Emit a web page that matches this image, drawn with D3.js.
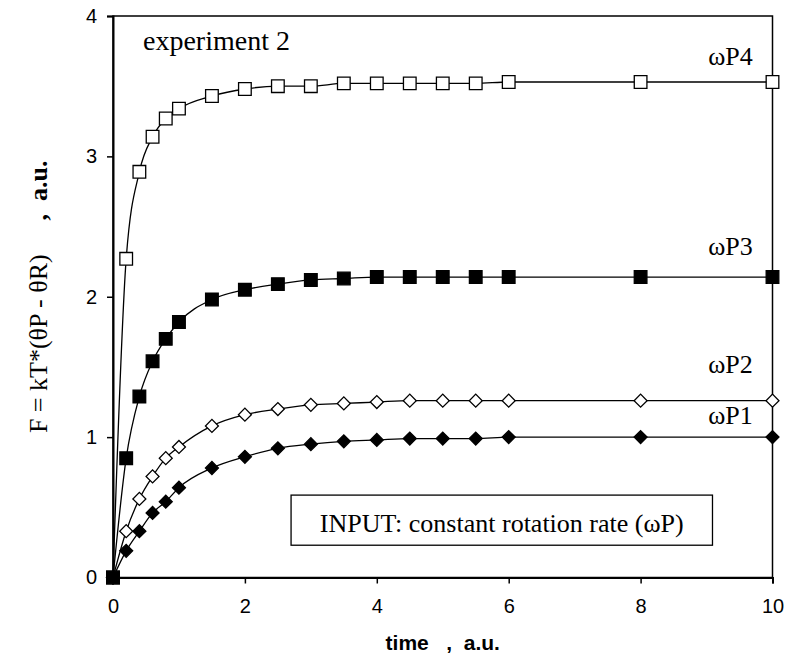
<!DOCTYPE html>
<html>

<head>
    <meta charset="utf-8">
    <title>experiment 2</title>
    <style>
        body { margin: 0; background: #fff; }
        text { white-space: pre; }
    </style>
</head>

<body>
    <script src="https://d3js.org/d3.v7.min.js"></script>
    <script>
    // data
    var times = [0, 0.2, 0.4, 0.6, 0.8, 1, 1.5, 2, 2.5, 3, 3.5, 4, 4.5, 5, 5.5, 6, 8, 10];
    var wP1 = [0, 0.19, 0.33, 0.46, 0.54, 0.64, 0.78, 0.86, 0.92, 0.95, 0.97, 0.98, 0.99, 0.99, 0.99, 1.00, 1.00, 1.00];
    var wP2 = [0, 0.33, 0.56, 0.72, 0.85, 0.93, 1.08, 1.16, 1.20, 1.23, 1.24, 1.25, 1.26, 1.26, 1.26, 1.26, 1.26, 1.26];
    var wP3 = [0, 0.85, 1.29, 1.54, 1.70, 1.82, 1.98, 2.05, 2.09, 2.12, 2.13, 2.14, 2.14, 2.14, 2.14, 2.14, 2.14, 2.14];
    var wP4 = [0, 2.27, 2.89, 3.14, 3.27, 3.34, 3.43, 3.48, 3.50, 3.50, 3.52, 3.52, 3.52, 3.52, 3.52, 3.53, 3.53, 3.53];
    var seriesNames = ["\u03c9P1", "\u03c9P2", "\u03c9P4", "\u03c9P3"];
    var xTicks = [0, 2, 4, 6, 8, 10];
    var yTicks = [0, 1, 2, 3, 4];

    const width = 787;
    const height = 656;
    const margin = { top: 16, right: 14.5, bottom: 78.5, left: 113 };

    var x = d3.scaleLinear().domain([0, 10]).range([margin.left, width - margin.right]);
    var y = d3.scaleLinear().domain([0, 4]).range([height - margin.bottom, margin.top]);

    var svg = d3.select("body")
        .append("svg")
        .attr("width", width)
        .attr("height", height);

    // plot frame
    svg.append("rect")
        .attr("x", x(0))
        .attr("y", y(4))
        .attr("width", x(10) - x(0))
        .attr("height", y(0) - y(4))
        .attr("fill", "none")
        .attr("stroke", "#000")
        .attr("stroke-width", 1.5);

    var xAxis = svg.append("g")
        .attr("transform", "translate(0," + y(0) + ")")
        .call(d3.axisBottom(x).tickValues(xTicks).tickFormat(d3.format("d"))
            .tickSizeOuter(0).tickSize(6).tickPadding(15));
    var yAxis = svg.append("g")
        .attr("transform", "translate(" + x(0) + ",0)")
        .call(d3.axisLeft(y).tickValues(yTicks).tickFormat(d3.format("d"))
            .tickSizeOuter(0).tickSize(6).tickPadding(10));

    [xAxis, yAxis].forEach(function(g) {
        g.select(".domain").attr("stroke-width", 2);
        g.selectAll(".tick line").attr("stroke-width", 1.5);
        g.selectAll("text")
            .attr("font-family", "Liberation Sans, Arial, sans-serif")
            .attr("font-size", 20)
            .attr("fill", "#000");
    });

    // series, drawn so the filled square of wP3 ends up on top
    var series = [
        { name: seriesNames[0], values: wP1, shape: "diamond", fill: "#000" },
        { name: seriesNames[1], values: wP2, shape: "diamond", fill: "#fff" },
        { name: seriesNames[2], values: wP4, shape: "square", fill: "#fff" },
        { name: seriesNames[3], values: wP3, shape: "square", fill: "#000" }
    ];

    var line = d3.line()
        .x(function(d) { return x(d[0]); })
        .y(function(d) { return y(d[1]); })
        .curve(d3.curveMonotoneX);

    series.forEach(function(s) {
        var pts = times.map(function(t, i) { return [t, s.values[i]]; });
        svg.append("path")
            .attr("d", line(pts))
            .attr("fill", "none")
            .attr("stroke", "#000")
            .attr("stroke-width", 1.3);

        var sym = d3.symbol().type(d3.symbolSquare).size(s.shape == "square" ? 160 : 84);
        svg.selectAll(null)
            .data(pts)
            .enter()
            .append("path")
            .attr("d", sym)
            .attr("transform", function(d) {
                return "translate(" + x(d[0]) + "," + y(d[1]) + ")" + (s.shape == "diamond" ? " rotate(45)" : "");
            })
            .attr("fill", s.fill)
            .attr("stroke", "#000")
            .attr("stroke-width", 1.3);
    });

    // series labels (data units)
    var labelPos = [[9.7, 1.093], [9.7, 1.456], [9.7, 3.65], [9.7, 2.30]];
    svg.selectAll(null)
        .data(series)
        .enter()
        .append("text")
        .attr("x", function(d, i) { return x(labelPos[i][0]); })
        .attr("y", function(d, i) { return y(labelPos[i][1]); })
        .attr("text-anchor", "end")
        .attr("font-family", "Liberation Serif, Times New Roman, serif")
        .attr("font-size", 26)
        .attr("fill", "#000")
        .text(function(d) { return d.name; });

    svg.append("text")
        .attr("x", x(0.455))
        .attr("y", y(3.76))
        .attr("font-family", "Liberation Serif, Times New Roman, serif")
        .attr("font-size", 28)
        .attr("fill", "#000")
        .text("experiment 2");

    // INPUT box
    var box = { x0: 2.70, x1: 9.09, y0: 0.23, y1: 0.587 };
    svg.append("rect")
        .attr("x", x(box.x0))
        .attr("y", y(box.y1))
        .attr("width", x(box.x1) - x(box.x0))
        .attr("height", y(box.y0) - y(box.y1))
        .attr("fill", "#fff")
        .attr("stroke", "#000")
        .attr("stroke-width", 1.3);
    svg.append("text")
        .attr("x", (x(box.x0) + x(box.x1)) / 2)
        .attr("y", y(box.y1) + 36.5)
        .attr("text-anchor", "middle")
        .attr("font-family", "Liberation Serif, Times New Roman, serif")
        .attr("font-size", 26)
        .attr("fill", "#000")
        .text("INPUT: constant rotation rate (\u03c9P)");

    // axis titles
    svg.append("text")
        .attr("x", (x(0) + x(10)) / 2)
        .attr("y", 650)
        .attr("text-anchor", "middle")
        .attr("font-family", "Liberation Sans, Arial, sans-serif")
        .attr("font-weight", "bold")
        .attr("font-size", 21)
        .attr("fill", "#000")
        .text("time   ,  a.u.");

    var yt = svg.append("text")
        .attr("transform", "translate(47," + ((y(0) + y(4)) / 2) + ") rotate(-90)")
        .attr("text-anchor", "middle")
        .attr("font-family", "Liberation Serif, Times New Roman, serif")
        .attr("font-size", 26)
        .attr("fill", "#000");
    yt.append("tspan").text("F = kT*(\u03b8P - \u03b8R)");
    yt.append("tspan").attr("dx", 34).attr("font-weight", "bold").text(",  a.u.");
    </script>
</body>

</html>
